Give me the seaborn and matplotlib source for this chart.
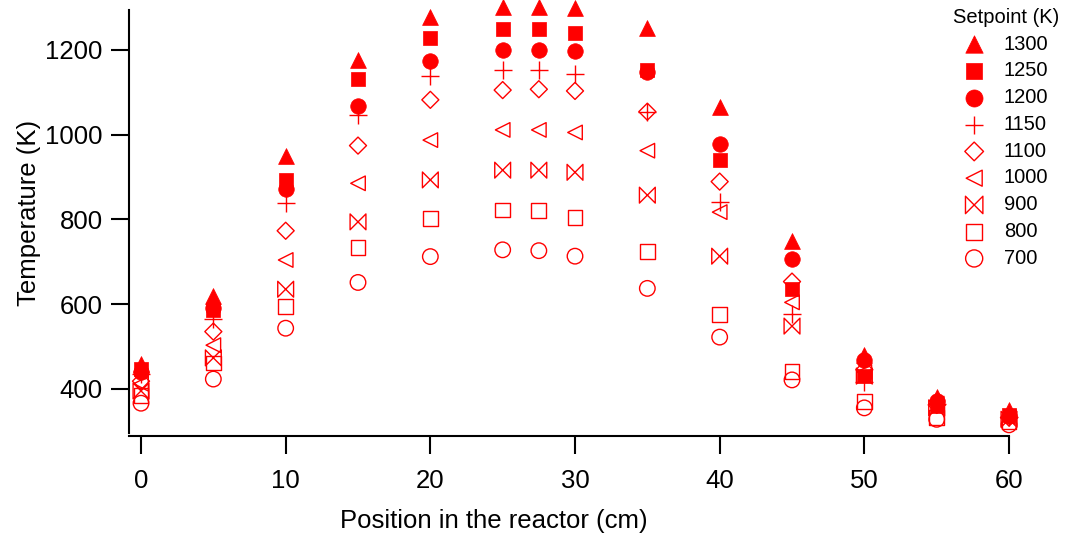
import matplotlib
matplotlib.use("Agg")
import matplotlib.pyplot as plt
import seaborn as sns
import pandas as pd
from matplotlib.path import Path

# ---- data ----
positions = [0, 5, 10, 15, 20, 25, 27.5, 30, 35, 40, 45, 50, 55, 60]
setpoints = [1300, 1250, 1200, 1150, 1100, 1000, 900, 800, 700]
t1300 = [458, 618, 950, 1176, 1277, 1300, 1300, 1298, 1251, 1065, 750, 480, 380, 350]
t1250 = [447, 586, 892, 1130, 1228, 1250, 1250, 1240, 1152, 940, 636, 430, 360, 338]
t1200 = [440, 590, 871, 1068, 1174, 1200, 1200, 1198, 1147, 978, 706, 468, 372, 335]
t1150 = [435, 565, 838, 1046, 1138, 1153, 1153, 1143, 1054, 842, 576, 415, 365, 333]
t1100 = [418, 535, 773, 974, 1082, 1105, 1107, 1103, 1054, 889, 653, 445, 362, 332]
t1000 = [412, 503, 704, 885, 987, 1011, 1011, 1005, 962, 817, 604, 440, 365, 333]
t900 = [395, 473, 635, 794, 893, 916, 916, 911, 857, 713, 548, 430, 355, 328]
t800 = [385, 461, 594, 733, 802, 822, 820, 805, 724, 576, 440, 370, 333, 322]
t700 = [366, 423, 543, 651, 712, 728, 726, 713, 637, 522, 421, 355, 328, 315]
series = [t1300, t1250, t1200, t1150, t1100, t1000, t900, t800, t700]
yticks = [400, 600, 800, 1000, 1200]
xticks = [0, 10, 20, 30, 40, 50, 60]

# ---- markers ----
diamond = Path([(0, 1), (1, 0), (0, -1), (-1, 0), (0, 1)],
               [Path.MOVETO, Path.LINETO, Path.LINETO, Path.LINETO, Path.CLOSEPOLY])
bowtie = Path([(-1, 1), (1, -1), (1, 1), (-1, -1), (-1, 1)],
              [Path.MOVETO, Path.LINETO, Path.LINETO, Path.LINETO, Path.CLOSEPOLY])
marker_specs = [
    ("^", True), ("s", True), ("o", True), ("+", None), (diamond, False),
    ("<", False), (bowtie, False), ("s", False), ("o", False),
]
sizes = [130, 115, 125, 150, 150, 110, 130, 115, 125]

sns.set_theme(style="ticks")
plt.rcParams["font.family"] = ["Liberation Sans", "DejaVu Sans"]
plt.rcParams["text.color"] = "black"
plt.rcParams["axes.labelcolor"] = "black"
plt.rcParams["xtick.color"] = "black"
plt.rcParams["ytick.color"] = "black"

fig = plt.figure(figsize=(10.66, 5.38), dpi=100)
ax = fig.add_axes([129 / 1066, 1 - 433 / 538, 880 / 1066, 423 / 538])

red = "#FF0000"
handles = {}
n = len(setpoints)
for i in range(n - 1, -1, -1):
    sp, vals, (mk, filled), sz = setpoints[i], series[i], marker_specs[i], sizes[i]
    df = pd.DataFrame({"pos": positions, "temp": vals})
    kw = dict(marker=mk, s=sz, clip_on=False, zorder=3 + (n - i) * 0.01)
    if filled is True:
        kw.update(color=red, edgecolor=red, linewidth=0.5)
    elif filled is None:
        kw.update(color=red, linewidth=1.0)
    else:
        kw.update(color=red, facecolor="none", edgecolor=red, linewidth=1.0)
    sns.scatterplot(data=df, x="pos", y="temp", ax=ax, legend=False, **kw)
    handles[sp] = ax.collections[-1]

ax.set_xlim(-0.83, 60)
ax.set_ylim(295.7, 1294)
ax.set_xticks(xticks)
ax.set_yticks(yticks)
ax.set_xlabel("Position in the reactor (cm)", fontsize=18.5)
ax.set_ylabel("Temperature (K)", fontsize=18.5)
ax.xaxis.set_label_coords(0.414, -0.1785)
ax.yaxis.set_label_coords(-0.100, 0.520)
ax.tick_params(axis="both", labelsize=18.5, length=13, width=1.5,
               direction="out")
ax.tick_params(axis="x", pad=11)
ax.tick_params(axis="y", pad=6)
for side in ["top", "right"]:
    ax.spines[side].set_visible(False)
for side in ["left", "bottom"]:
    ax.spines[side].set_linewidth(1.5)
    ax.spines[side].set_color("black")
ax.spines["bottom"].set_position(("outward", 2.2))

leg = ax.legend(handles=[handles[s] for s in setpoints],
                labels=[str(s) for s in setpoints],
                title="Setpoint (K)", frameon=False, fontsize=14.5, title_fontsize=14.5,
                loc="upper left", bbox_to_anchor=(949 / 1066, 0.9927),
                bbox_transform=fig.transFigure, handletextpad=0.42,
                labelspacing=0.385, borderaxespad=0.0, borderpad=0.2,
                handlelength=2.1, markerscale=1.1)
leg._legend_box.align = "left"

fig.savefig("out.png", dpi=100)
